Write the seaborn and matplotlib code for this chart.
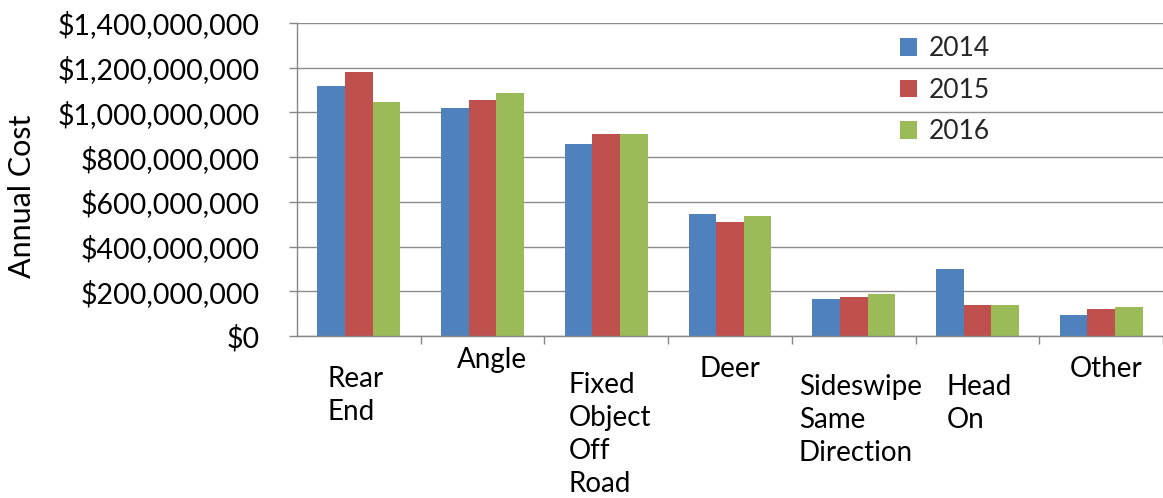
import matplotlib
matplotlib.use("Agg")
import matplotlib.pyplot as plt
import matplotlib.ticker as mticker
import seaborn as sns
import pandas as pd

categories = ["Rear\nEnd", "Angle", "Fixed\nObject\nOff\nRoad", "Deer",
              "Sideswipe\nSame\nDirection", "Head\nOn", "Other"]
years = ["2014", "2015", "2016"]
cost_2014 = [1116e6, 1018e6, 857e6, 545e6, 165e6, 298e6, 92e6]
cost_2015 = [1179e6, 1054e6, 902e6, 512e6, 173e6, 137e6, 119e6]
cost_2016 = [1045e6, 1089e6, 902e6, 537e6, 190e6, 137e6, 128e6]
yticks = [0, 200e6, 400e6, 600e6, 800e6, 1000e6, 1200e6, 1400e6]

colors = ["#4F81BD", "#C0504D", "#9BBB59"]

rows = []
for yr, vals in zip(years, [cost_2014, cost_2015, cost_2016]):
    for c, v in zip(categories, vals):
        rows.append({"cat": c, "year": yr, "cost": v})
df = pd.DataFrame(rows)

sns.set_theme(style="white")
plt.rcParams["font.family"] = ["Lato", "DejaVu Sans"]

W, H = 1163, 498
fig = plt.figure(figsize=(W / 100, H / 100), dpi=100)
left, right, top, bottom = 297, 1163, 23, 336
ax = fig.add_axes([left / W, 1 - bottom / H, (right - left) / W, (bottom - top) / H])

sns.barplot(data=df, x="cat", y="cost", hue="year", palette=colors,
            order=categories, hue_order=years, width=0.67, gap=0,
            linewidth=0, saturation=1, ax=ax, legend=True)

cat_px = 125.25
ax.set_xlim(-0.5, -0.5 + (right - left) / cat_px)
ax.set_ylim(0, 1400e6)
ax.set_yticks(yticks)
ax.yaxis.set_major_formatter(mticker.FuncFormatter(lambda v, p: "${:,.0f}".format(v)))
ax.yaxis.grid(True, color="#8c8c8c", linewidth=1.0)
ax.set_axisbelow(True)

for s in ["top", "right"]:
    ax.spines[s].set_visible(False)
for s in ["left", "bottom"]:
    ax.spines[s].set_color("#868686")
    ax.spines[s].set_linewidth(1.0)

ax.tick_params(axis="y", which="major", left=True, length=6, width=1.0,
               color="#868686", pad=21, labelsize=20.5, labelcolor="black")
ax.set_xticks([i + 0.5 for i in range(len(categories))])
ax.set_xticklabels([])
ax.tick_params(axis="x", which="major", bottom=True, length=6, width=1.0,
               color="#868686")

ax.set_xlabel("")
ax.set_ylabel("Annual Cost", fontsize=22, color="black", va="center")
ax.yaxis.set_label_coords((22 - left) / (right - left), (bottom - 196) / (bottom - top))

# staggered category labels (left offset px, top y px)
label_off = [(-31, 366), (-26, 347), (-38, 372), (-30, 356), (-55, 374), (-31, 374), (-31, 356)]
for i, (lab, (dx, ty)) in enumerate(zip(categories, label_off)):
    ax.annotate(lab, xy=(i, 0), xycoords=("data", "axes fraction"),
                xytext=(dx * 0.72, -(ty - bottom) * 0.72), textcoords="offset points",
                ha="left", va="top", fontsize=20, linespacing=1.33, color="black")

leg = ax.legend(loc="upper left", bbox_to_anchor=(900 / W, 1 - 36 / H),
                bbox_transform=fig.transFigure, frameon=False, fontsize=19,
                handlelength=0.65, handleheight=0.65, handletextpad=0.45,
                labelspacing=0.63, borderpad=0, borderaxespad=0)

fig.savefig("out.png", dpi=100)
